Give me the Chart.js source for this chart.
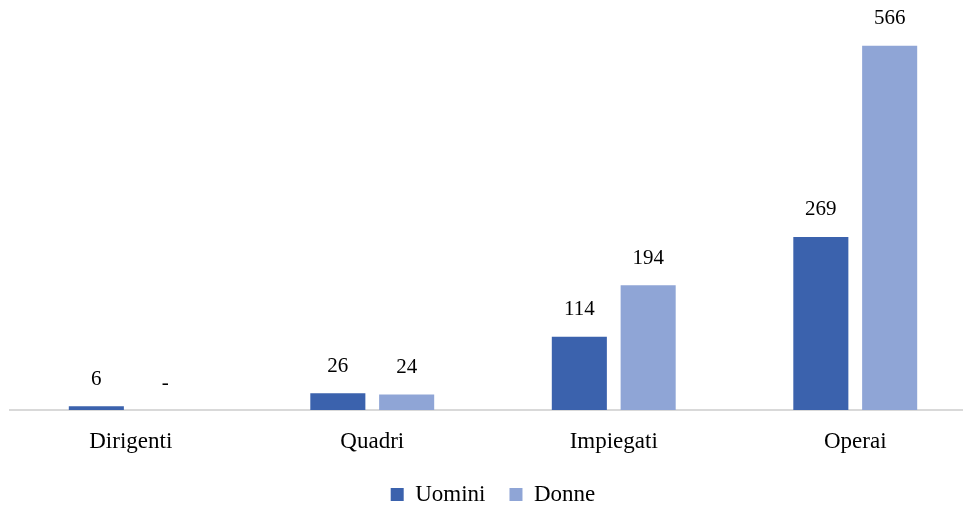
<!DOCTYPE html>
<html lang="it">
<head>
<meta charset="UTF-8">
<title>Uomini e Donne per categoria</title>
<script src="https://cdn.jsdelivr.net/npm/chart.js"></script>
<style>
  html, body { margin: 0; padding: 0; background: #fff; overflow: hidden; }
  #wrap { position: absolute; left: 0; top: 0; width: 996px; height: 516px; }
</style>
</head>
<body>
<div id="wrap"><canvas id="chart"></canvas></div>
<script>
const categories = ['Dirigenti', 'Quadri', 'Impiegati', 'Operai'];
const uomini = [6, 26, 114, 269];
const donne = [0, 24, 194, 566];
const seriesNames = ['Uomini', 'Donne'];

const FONT = '"Liberation Serif", "DejaVu Serif", serif';

// value labels above bars, zero shown as "-"
const barLabels = {
  id: 'barLabels',
  afterDatasetsDraw(chart) {
    const ctx = chart.ctx;
    ctx.save();
    ctx.font = '21px ' + FONT;
    ctx.fillStyle = '#000';
    ctx.textAlign = 'center';
    ctx.textBaseline = 'middle';
    chart.data.datasets.forEach((ds, i) => {
      chart.getDatasetMeta(i).data.forEach((bar, j) => {
        const v = ds.data[j];
        ctx.fillText(v === 0 ? '-' : String(v), bar.x, bar.y - 27);
      });
    });
    ctx.restore();
  }
};

new Chart(document.getElementById('chart'), {
  type: 'bar',
  data: {
    labels: categories,
    datasets: [
      { label: seriesNames[0], data: uomini, backgroundColor: '#3B62AD' },
      { label: seriesNames[1], data: donne, backgroundColor: '#8FA5D6' }
    ]
  },
  options: {
    responsive: true,
    maintainAspectRatio: false,
    animation: false,
    layout: { padding: { left: 10, right: 20, top: 24, bottom: 0 } },
    datasets: { bar: { categoryPercentage: 0.57, barPercentage: 0.8 } },
    scales: {
      x: {
        grid: { display: false, drawTicks: false },
        border: { color: '#D9D9D9', width: 2 },
        ticks: { color: '#000', font: { family: FONT, size: 23 }, padding: 18 },
        afterFit(scale) { scale.height = 49; }
      },
      y: {
        display: false,
        min: 0,
        max: 600
      }
    },
    plugins: {
      tooltip: { enabled: false },
      legend: {
        position: 'bottom',
        labels: {
          color: '#000',
          font: { family: FONT, size: 23 },
          boxWidth: 13,
          boxHeight: 13,
          padding: 24
        }
      }
    }
  },
  plugins: [barLabels]
});
</script>
</body>
</html>
